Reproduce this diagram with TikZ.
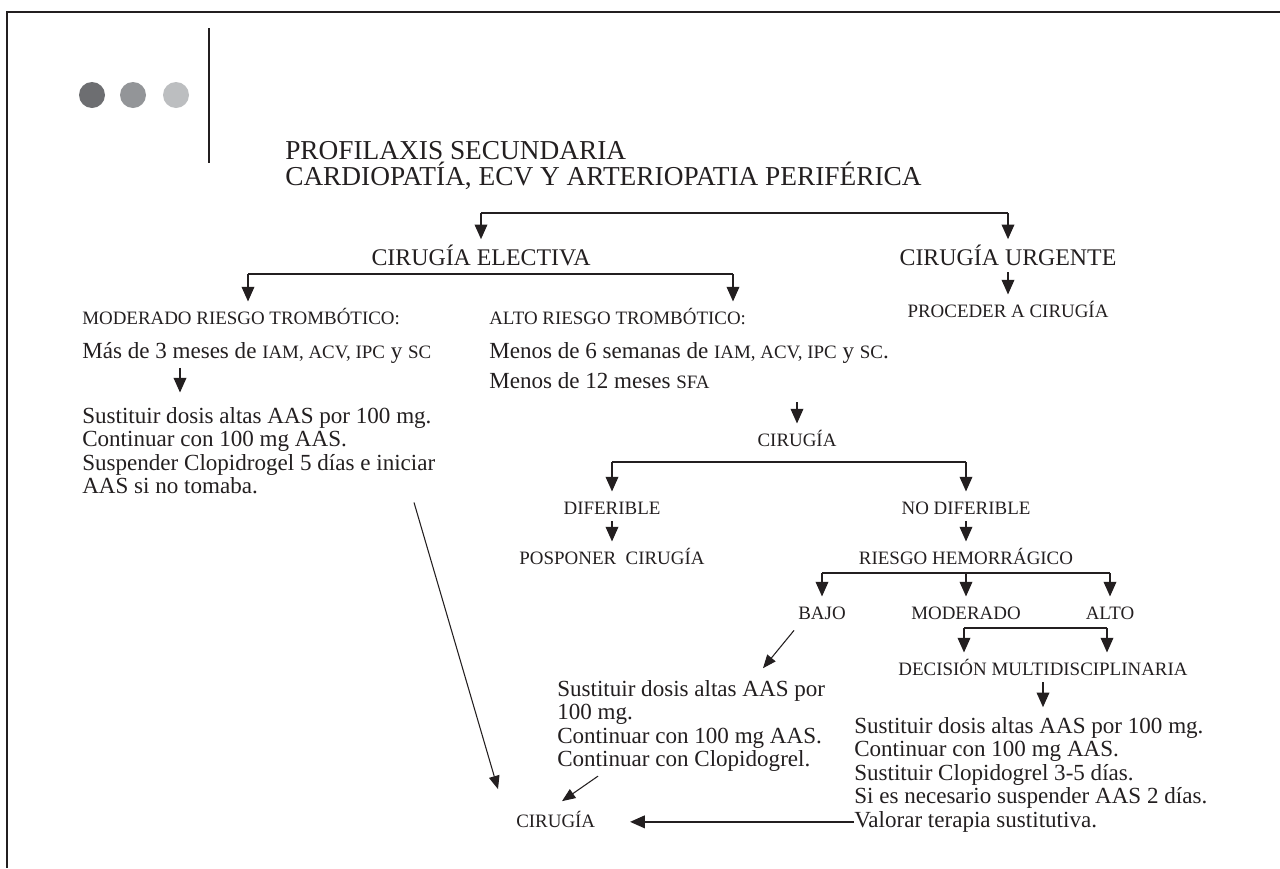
\documentclass[tikz,border=0pt]{standalone}
\usepackage{fontspec}
\setmainfont{Liberation Serif}
\usetikzlibrary{arrows.meta}
\definecolor{dotA}{HTML}{6D6E71}
\definecolor{dotB}{HTML}{939598}
\definecolor{dotC}{HTML}{BCBEC0}
\definecolor{ink}{HTML}{231F20}
\newcommand{\smc}[1]{{\fontsize{14.2}{17.6}\selectfont #1}}
\begin{document}
\begin{tikzpicture}[x=0.75pt,y=-0.75pt,
  every node/.style={text=ink},
  arr/.style={draw=ink,line width=1.1pt,shorten >=2pt,-{Triangle[length=11pt,width=9.5pt]}},
  thinarr/.style={draw=ink,line width=0.8pt,-{Triangle[length=10pt,width=8pt]}},
  brk/.style={draw=ink,line width=1.1pt},
  body/.style={font=\fontsize{17.3}{17.6}\selectfont, inner sep=0pt, align=left},
  scl/.style={font=\fontsize{14.2}{17}\selectfont, inner sep=0pt, text height=9.4pt, text depth=0pt, outer ysep=5.5pt},
  head/.style={font=\fontsize{17.9}{21}\selectfont, inner sep=0pt, text height=11.85pt, text depth=0pt, outer ysep=5.5pt},
  ttl/.style={font=\fontsize{20.5}{21}\selectfont, inner sep=0pt},
]
\useasboundingbox (0,0) rectangle (1280,868);
% frame
\draw[draw=ink,line width=1.1pt] (1280,12) -- (7,12) -- (7,868);
% dots and bar
\fill[dotA] (92,95) circle [radius=13];
\fill[dotB] (133,95) circle [radius=13];
\fill[dotC] (176,95) circle [radius=13];
\draw[draw=ink,line width=2pt] (209,28) -- (209,163);
% title
\node[ttl,anchor=base west] (t1) at (285,159) {PROFILAXIS SECUNDARIA};
\node[ttl,anchor=base west] (t2) at (285,185) {CARDIOPATÍA, ECV Y ARTERIOPATIA PERIFÉRICA};
% level 1
\node[head,anchor=base] (elec) at (481,265) {CIRUGÍA ELECTIVA};
\node[head,anchor=base] (urg) at (1008,265) {CIRUGÍA URGENTE};
\coordinate (b1) at (elec.north |- 0,213);
\coordinate (b2) at (urg.north |- 0,213);
\draw[brk] (b1) -- (b2);
\draw[arr] (b1) -- (elec.north);
\draw[arr] (b2) -- (urg.north);
\node[scl,anchor=base] (proc) at (1008,317) {PROCEDER A CIRUGÍA};
\draw[arr] (urg.south) -- (proc.north);
% level 2
\node[scl,anchor=base west] (modr) at (82,324) {MODERADO RIESGO TROMBÓTICO:};
\node[scl,anchor=base west] (alto) at (489,324) {ALTO RIESGO TROMBÓTICO:};
\coordinate (c1) at (248,274);
\coordinate (c2) at (733,274);
\draw[brk] (c1) -- (c2);
\draw[arr] (c1) -- (c1 |- modr.north);
\draw[arr] (c2) -- (c2 |- alto.north);
\node[body,anchor=base west] (mas) at (82,358) {Más de 3 meses de \smc{IAM, ACV, IPC} y \smc{SC}};
\node[body,anchor=base west] (men6) at (489,358) {Menos de 6 semanas de \smc{IAM, ACV, IPC} y \smc{SC}.};
\node[body,anchor=base west] (men12) at (489,388) {Menos de 12 meses \smc{SFA}};
\node[body,anchor=north west] (blkL) at (82,407.2) {Sustituir dosis altas AAS por 100 mg.\\Continuar con 100 mg AAS.\\Suspender Clopidrogel 5 días e iniciar\\AAS si no tomaba.};
\coordinate (aL1) at ([xshift=73.5pt,yshift=-3.5pt]mas.south west);
\coordinate (aL2) at ([xshift=73.5pt,yshift=9pt]blkL.north west);
\draw[arr] (aL1) -- (aL2);
% alto branch
\node[scl,anchor=base] (cir1) at (797,446) {CIRUGÍA};
\draw[arr] (cir1.north |- 0,402) -- (cir1.north);
\node[scl,anchor=base] (dif) at (612,514) {DIFERIBLE};
\node[scl,anchor=base] (nodif) at (966,514) {NO DIFERIBLE};
\coordinate (d1) at (dif.north |- 0,462);
\coordinate (d2) at (nodif.north |- 0,462);
\draw[brk] (d1) -- (d2);
\draw[arr] (d1) -- (dif.north);
\draw[arr] (d2) -- (nodif.north);
\node[scl,anchor=base] (posp) at (612,564) {POSPONER\ \ CIRUGÍA};
\node[scl,anchor=base] (rh) at (966,564) {RIESGO HEMORRÁGICO};
\draw[arr] (dif.south) -- (posp.north);
\draw[arr] (nodif.south) -- (rh.north);
\node[scl,anchor=base] (bajo) at (822,619) {BAJO};
\node[scl,anchor=base] (mod) at (966,619) {MODERADO};
\node[scl,anchor=base] (altoR) at (1110,619) {ALTO};
\coordinate (e1) at (bajo.north |- 0,573);
\coordinate (e2) at (mod.north |- 0,573);
\coordinate (e3) at (altoR.north |- 0,573);
\draw[brk] (e1) -- (e3);
\draw[arr] (e1) -- (bajo.north);
\draw[arr] (e2) -- (mod.north);
\draw[arr] (e3) -- (altoR.north);
\node[scl,anchor=base] (dec) at (1043,675) {DECISIÓN MULTIDISCIPLINARIA};
\coordinate (f1) at (964,628);
\coordinate (f2) at (1107,628);
\draw[brk] (f1) -- (f2);
\draw[arr] (f1) -- (f1 |- dec.north);
\draw[arr] (f2) -- (f2 |- dec.north);
\node[body,anchor=north west] (blkR) at (854,717.2) {Sustituir dosis altas AAS por 100 mg.\\Continuar con 100 mg AAS.\\Sustituir Clopidogrel 3-5 días.\\Si es necesario suspender AAS 2 días.\\Valorar terapia sustitutiva.};
\coordinate (rtop) at ([yshift=5.5pt]blkR.north);
\draw[arr] (dec.south) -- (dec.south |- rtop);
\node[body,anchor=north west] (blkM) at (557,680.2) {Sustituir dosis altas AAS por\\100 mg.\\Continuar con 100 mg AAS.\\Continuar con Clopidogrel.};
\coordinate (bj1) at ([shift={(-4,4)}]bajo.south west);
\coordinate (bj2) at ([shift={(206,-12)}]blkM.north west);
\draw[thinarr] (bj1) -- (bj2);
% final
\node[scl,anchor=base west] (cir2) at (516,827) {CIRUGÍA};
\coordinate (m1) at ([shift={(41,4)}]blkM.south west);
\coordinate (m2) at ([shift={(46,-6)}]cir2.north west);
\draw[thinarr] (m1) -- (m2);
\coordinate (l1) at ([shift={(332,8)}]blkL.south west);
\coordinate (l2) at ([shift={(-18,-18)}]cir2.north west);
\draw[thinarr] (l1) -- (l2);
\coordinate (h1) at ([yshift=8pt]blkR.south west);
\coordinate (ce) at ([xshift=26pt]cir2.east);
\draw[arr,shorten >=0pt] (h1) -- (h1 -| ce);
\end{tikzpicture}
\end{document}
